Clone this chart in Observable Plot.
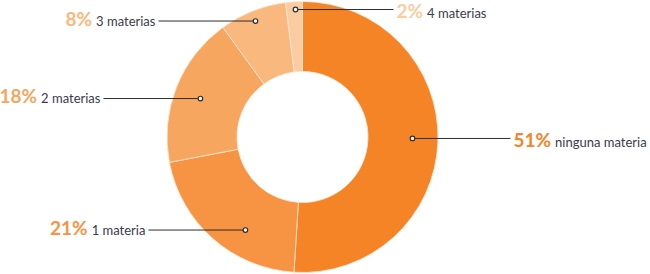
<!DOCTYPE html>
<html><head><meta charset="utf-8">
<script src="https://cdn.jsdelivr.net/npm/d3@7"></script>
<script src="https://cdn.jsdelivr.net/npm/@observablehq/plot@0.6"></script>
<style>body{margin:0;background:#fff}#chart svg{display:block}</style>
</head><body><div id="chart"></div>
<script>
// ---- data ----
const categories = ["ninguna materia", "1 materia", "2 materias", "3 materias", "4 materias"];
const values = [51, 21, 18, 8, 2];
const percentLabels = ["51%", "21%", "18%", "8%", "2%"];

// ---- styles / layout (kept apart from data) ----
const sliceColors = ["#F58426", "#F69443", "#F7A660", "#F9B87E", "#FBCCA2"];
const labelLayout = [
  {r: 109.5, da: -1.3, side: "right"},
  {r: 109,   da: -9.5, side: "left"},
  {r: 109.7, da: -0.8, side: "left"},
  {r: 125.8, da: -0.6, side: "left"},
  {r: 128.2, da: 0.25, side: "right"}
];
const W = 650, H = 274, CX = 302.5, CY = 137, R0 = 65.5, R1 = 135.5;
const FONT = "Lato, 'Open Sans', sans-serif";
const PCT_SIZE = 19, LBL_SIZE = 13, LINE_LEN = 97, GAP = 4;
const BASELINE = {left: 4.5, right: 8.5};

const data = categories.map((c, i) => ({category: c, value: values[i], pct: percentLabels[i]}));
const arcs = d3.pie().sort(null).value(d => d.value)(data);

const ctx = document.createElement("canvas").getContext("2d");
function measure(text, font) { ctx.font = font; return ctx.measureText(text).width; }

const rows = arcs.map((a, i) => {
  const L = labelLayout[i];
  const ang = (a.startAngle + a.endAngle) / 2 + L.da * Math.PI / 180;
  const ax = L.r * Math.sin(ang), ay = -L.r * Math.cos(ang);
  const wPct = measure(a.data.pct, `bold ${PCT_SIZE}px Lato`);
  const wLbl = measure(a.data.category, `${LBL_SIZE}px Lato`);
  let lineEnd, pctX, lblX;
  if (L.side === "left") {
    lineEnd = ax - LINE_LEN;
    lblX = lineEnd - 3;
    pctX = lblX - wLbl - GAP;
  } else {
    lineEnd = ax + LINE_LEN + 1;
    pctX = lineEnd + 3;
    lblX = pctX + wPct + GAP;
  }
  return {...a.data, ax, ay, lineEnd, pctX, lblX, side: L.side};
});

function donut(index, scales) {
  const g = d3.create("svg:g").attr("transform", `translate(${scales.x(0)},${scales.y(0)})`);
  const arc = d3.arc().innerRadius(R0).outerRadius(R1);
  g.selectAll("path").data(arcs).join("path")
    .attr("d", arc)
    .attr("fill", d => scales.color(d.data.category))
    .attr("stroke", "#fde8d6")
    .attr("stroke-width", 0.8);
  return g.node();
}

const textMarks = ["left", "right"].flatMap(side => {
  const set = rows.filter(r => r.side === side);
  const anchor = side === "left" ? "end" : "start";
  return [
    Plot.text(set, {x: "pctX", y: "ay", text: "pct", fill: "category", textAnchor: anchor,
      fontSize: PCT_SIZE, fontWeight: "bold", fontFamily: FONT, dy: BASELINE[side] - 0.32 * PCT_SIZE}),
    Plot.text(set, {x: "lblX", y: "ay", text: "category", fill: "#3a3a4c", textAnchor: anchor,
      fontSize: LBL_SIZE, fontFamily: FONT, dy: BASELINE[side] - 0.32 * LBL_SIZE})
  ];
});

const chart = Plot.plot({
  width: W, height: H,
  margin: 0,
  x: {type: "linear", domain: [-CX, W - CX], range: [0, W], axis: null},
  y: {type: "linear", domain: [-CY, H - CY], range: [0, H], axis: null},
  color: {type: "ordinal", domain: categories, range: sliceColors},
  style: {fontFamily: FONT, background: "#fff"},
  marks: [
    donut,
    Plot.link(rows, {x1: "ax", y1: "ay", x2: "lineEnd", y2: "ay", stroke: "#2e2e2e", strokeWidth: 1}),
    Plot.dot(rows, {x: "ax", y: "ay", r: 2.3, stroke: "#2e2e2e", strokeWidth: 1.2, fill: "#fff"}),
    ...textMarks
  ]
});
document.getElementById("chart").appendChild(chart);
</script>
</body></html>
